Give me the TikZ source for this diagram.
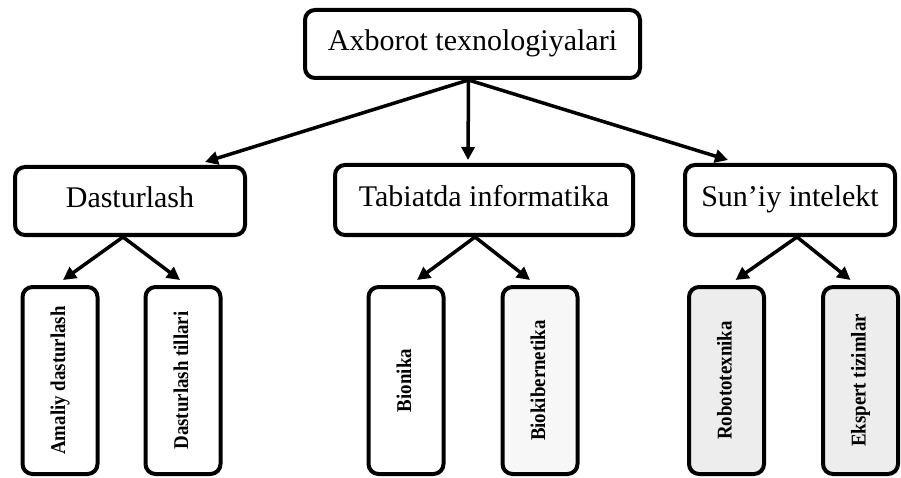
\documentclass[tikz,border=0pt]{standalone}
\usepackage{fontspec}
\setmainfont{Liberation Serif}
\usetikzlibrary{arrows.meta}
\newcommand{\vlab}[1]{\scalebox{0.9}[1]{#1}}
\begin{document}
\begin{tikzpicture}[x=1pt,y=-1pt,
  box/.style={draw=black,line width=4pt,rounded corners=10pt,fill=white,inner sep=0pt,
    text height=20pt,text depth=6pt,font=\fontsize{30}{35}\selectfont},
  leaf/.style={draw=black,line width=4pt,rounded corners=10pt,fill=white,inner sep=0pt,
    minimum width=75pt,minimum height=187pt},
  vtext/.style={rotate=90,font=\fontsize{21}{24}\selectfont\bfseries,inner sep=0pt,
    text height=14pt,text depth=4pt},
  arr/.style={line width=3.5pt,-{Triangle[length=13pt,width=13pt]}}]
\useasboundingbox (0,0) rectangle (901,478);
% top
\node[box,minimum width=335pt,minimum height=68pt] (top) at (472.5,44) {Axborot texnologiyalari};
% middle
\node[box,minimum width=230pt,minimum height=68pt] (dast) at (130,201) {Dasturlash};
\node[box,minimum width=298pt,minimum height=70pt] (tab) at (484,200) {Tabiatda informatika};
\node[box,minimum width=210pt,minimum height=70pt] (sun) at (790,200) {Sun’iy intelekt};
% leaves
\node[leaf] (b1) at (60,380.5) {};
\node[leaf] (b2) at (183,380.5) {};
\node[leaf] (b3) at (406,380.5) {};
\node[leaf,fill=black!3] (b4) at (540,380.5) {};
\node[leaf,fill=black!7] (b5) at (726.5,380.5) {};
\node[leaf,fill=black!7] (b6) at (860.5,380.5) {};
\node[vtext] (t1) at (b1.center) {\vlab{Amaliy dasturlash}};
\node[vtext] (t2) at (b2.center) {\vlab{Dasturlash tillari}};
\node[vtext] (t3) at (b3.center) {\vlab{Bionika}};
\node[vtext] (t4) at (b4.center) {\vlab{Biokibernetika}};
\node[vtext] (t5) at (b5.center) {\vlab{Robototexnika}};
\node[vtext] (t6) at (b6.center) {\vlab{Ekspert tizimlar}};
% arrows from top
\draw[arr] ([xshift=-4pt]top.south) -- ([xshift=75pt,yshift=3pt]dast.north);
\draw[arr] ([xshift=-4pt]top.south) -- ([xshift=-16pt,yshift=3pt]tab.north);
\draw[arr] ([xshift=-4pt]top.south) -- ([xshift=-62pt,yshift=3pt]sun.north);
% arrows from middle
\draw[arr] ([xshift=-7pt]dast.south) -- ([xshift=3pt,yshift=5pt]b1.north);
\draw[arr] ([xshift=-7pt]dast.south) -- ([xshift=-3pt,yshift=5pt]b2.north);
\draw[arr] ([xshift=-9pt]tab.south) -- ([xshift=11pt,yshift=5pt]b3.north);
\draw[arr] ([xshift=-9pt]tab.south) -- ([xshift=-10pt,yshift=5pt]b4.north);
\draw[arr] ([xshift=7pt]sun.south) -- ([xshift=9pt,yshift=5pt]b5.north);
\draw[arr] ([xshift=7pt]sun.south) -- ([xshift=-10pt,yshift=5pt]b6.north);
\end{tikzpicture}
\end{document}
